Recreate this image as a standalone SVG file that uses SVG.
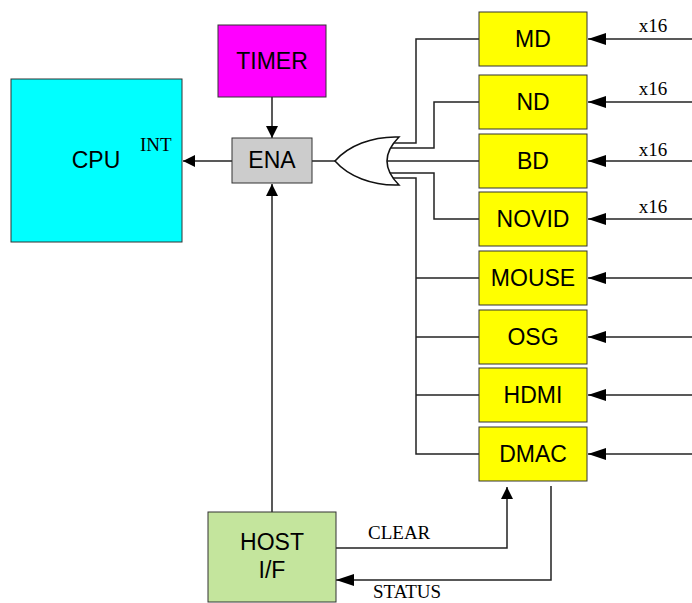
<svg xmlns="http://www.w3.org/2000/svg" width="692" height="603" viewBox="0 0 692 603">
<defs>
<style>
.box{stroke:#333;stroke-width:1}
.lbl{font-family:"Liberation Sans",Arial,sans-serif;font-size:23px;fill:#000;text-anchor:middle}
.sig{font-family:"Liberation Serif","Times New Roman",serif;font-size:19px;fill:#000}
.wire{fill:none;stroke:#222;stroke-width:1.5}
</style>
<marker id="ah" markerUnits="userSpaceOnUse" markerWidth="12" markerHeight="12" refX="12" refY="6" orient="auto">
<path d="M0,0 L12,6 L0,12 z" fill="#000"/>
</marker>
<marker id="ahl" markerUnits="userSpaceOnUse" markerWidth="18" markerHeight="12" refX="18" refY="6" orient="auto">
<path d="M0,0 L18,6 L0,12 z" fill="#000"/>
</marker>
</defs>
<rect width="692" height="603" fill="#fff"/>

<g id="connectors">
<path class="wire" d="M272,97 V138" marker-end="url(#ah)"/>
<path class="wire" d="M232,161 H183" marker-end="url(#ah)"/>
<path class="wire" d="M272,512 V184" marker-end="url(#ah)"/>
<path class="wire" d="M312,161 H336"/>
<path class="wire" d="M479,39 H416 V143 H388"/>
<path class="wire" d="M479,102 H434 V148 H388"/>
<path class="wire" d="M479,161 H386"/>
<path class="wire" d="M479,219 H434 V173 H388"/>
<path class="wire" d="M479,454 H416 V178 H388"/>
<path class="wire" d="M416,278 H479"/>
<path class="wire" d="M416,337 H479"/>
<path class="wire" d="M416,395 H479"/>
<path class="wire" d="M692,39 H588" marker-end="url(#ahl)"/>
<path class="wire" d="M692,102 H588" marker-end="url(#ahl)"/>
<path class="wire" d="M692,161 H588" marker-end="url(#ahl)"/>
<path class="wire" d="M692,219 H588" marker-end="url(#ahl)"/>
<path class="wire" d="M692,278 H588" marker-end="url(#ahl)"/>
<path class="wire" d="M692,337 H588" marker-end="url(#ahl)"/>
<path class="wire" d="M692,395 H588" marker-end="url(#ahl)"/>
<path class="wire" d="M692,454 H588" marker-end="url(#ahl)"/>
<path class="wire" d="M336,548 H507 V487" marker-end="url(#ah)"/>
<path class="wire" d="M551,486 V580 H336" marker-end="url(#ahl)"/>
<text class="sig" x="653" y="32" text-anchor="middle">x16</text>
<text class="sig" x="653" y="95" text-anchor="middle">x16</text>
<text class="sig" x="653" y="156" text-anchor="middle">x16</text>
<text class="sig" x="653" y="213" text-anchor="middle">x16</text>
<text class="sig" x="368" y="539">CLEAR</text>
<text class="sig" x="373" y="598">STATUS</text>
</g>

<g id="or-gate">
<path d="M399,137 C372,136 348,146 335,161 C348,176 372,186 399,185 Q375,161 399,137 Z" fill="#fff" stroke="#111" stroke-width="1.5"/>
</g>

<g id="cpu">
<rect class="box" x="11" y="79" width="171" height="163" fill="#00FFFF"/>
<text class="lbl" x="96" y="168">CPU</text>
<text class="sig" x="140" y="151">INT</text>
</g>
<g id="timer">
<rect class="box" x="218" y="25" width="108" height="72" fill="#FF00FF"/>
<text class="lbl" x="272" y="69">TIMER</text>
</g>
<g id="ena">
<rect class="box" x="232" y="138" width="80" height="45" fill="#CCCCCC"/>
<text class="lbl" x="272" y="168">ENA</text>
</g>
<g id="host">
<rect class="box" x="208" y="512" width="128" height="90" fill="#C4E59D"/>
<text class="lbl" x="272" y="550">HOST</text>
<text class="lbl" x="272" y="578">I/F</text>
</g>
<g id="md">
<rect class="box" x="479" y="12" width="108" height="54" fill="#FFFF00"/>
<text class="lbl" x="533" y="47">MD</text>
</g>
<g id="nd">
<rect class="box" x="479" y="75" width="108" height="54" fill="#FFFF00"/>
<text class="lbl" x="533" y="110">ND</text>
</g>
<g id="bd">
<rect class="box" x="479" y="134" width="108" height="54" fill="#FFFF00"/>
<text class="lbl" x="533" y="169">BD</text>
</g>
<g id="novid">
<rect class="box" x="479" y="192" width="108" height="54" fill="#FFFF00"/>
<text class="lbl" x="533" y="227">NOVID</text>
</g>
<g id="mouse">
<rect class="box" x="479" y="251" width="108" height="54" fill="#FFFF00"/>
<text class="lbl" x="533" y="286">MOUSE</text>
</g>
<g id="osg">
<rect class="box" x="479" y="310" width="108" height="54" fill="#FFFF00"/>
<text class="lbl" x="533" y="345">OSG</text>
</g>
<g id="hdmi">
<rect class="box" x="479" y="368" width="108" height="54" fill="#FFFF00"/>
<text class="lbl" x="533" y="403">HDMI</text>
</g>
<g id="dmac">
<rect class="box" x="479" y="427" width="108" height="54" fill="#FFFF00"/>
<text class="lbl" x="533" y="462">DMAC</text>
</g>
</svg>
